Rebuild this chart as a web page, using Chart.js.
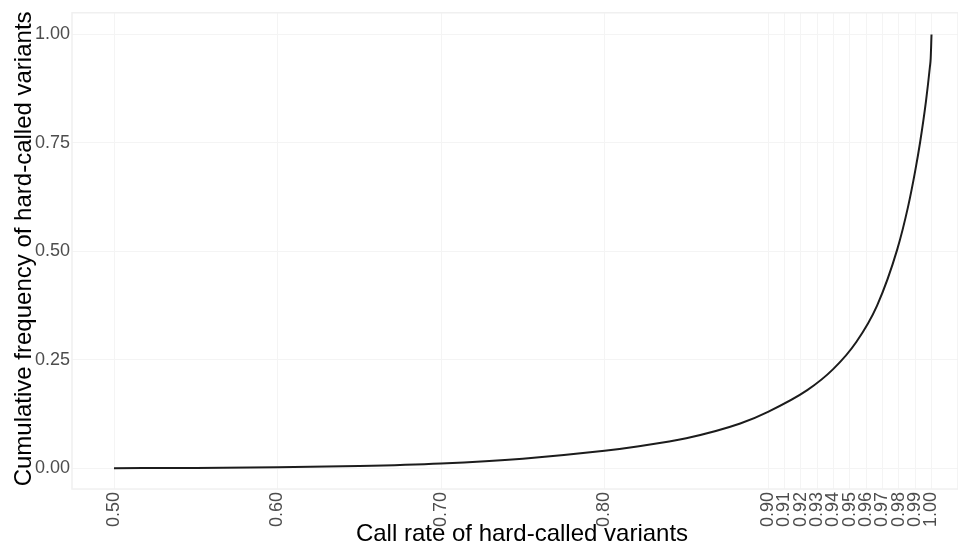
<!DOCTYPE html>
<html lang="en">
<head>
  <meta charset="UTF-8" />
  <title>Cumulative call rate</title>
  <script src="https://cdn.jsdelivr.net/npm/chart.js"></script>
  <style>
    body {
      margin: 0;
      background: #ffffff;
    }
    canvas {
      display: block;
    }
  </style>
</head>
<body>
  <canvas id="cdfChart" width="958" height="550"></canvas>

  <script>
    // values
    const callRate = [0.50, 0.55, 0.60, 0.65, 0.70, 0.75, 0.80, 0.82, 0.85, 0.883, 0.90,
                      0.924, 0.94, 0.954, 0.9667, 0.979, 0.9856, 0.990, 0.993, 0.9966, 0.999, 0.9995, 1.00];
    const cumFreq  = [0.000, 0.0005, 0.002, 0.005, 0.011, 0.022, 0.040, 0.050, 0.069, 0.103, 0.130,
                      0.180, 0.229, 0.291, 0.375, 0.504, 0.602, 0.685, 0.751, 0.846, 0.925, 0.945, 1.000];
    const xTicks = [0.50, 0.60, 0.70, 0.80, 0.90, 0.91, 0.92, 0.93, 0.94, 0.95, 0.96, 0.97, 0.98, 0.99, 1.00];
    const yTicks = [0.00, 0.25, 0.50, 0.75, 1.00];

    const FONT = "'Liberation Sans', Arial, sans-serif";

    const panelPlugin = {
      id: 'panel',
      beforeDraw(chart) {
        const { ctx, width, height } = chart;
        ctx.save();
        ctx.fillStyle = '#ffffff';
        ctx.fillRect(0, 0, width, height);
        ctx.restore();
      },
      beforeDatasetsDraw(chart) {
        const { ctx, chartArea: a } = chart;
        ctx.save();
        ctx.strokeStyle = '#f0f0f0';
        ctx.lineWidth = 1.5;
        ctx.strokeRect(a.left, a.top, a.right - a.left, a.bottom - a.top);
        ctx.restore();
      },
      afterDraw(chart) {
        const { ctx, chartArea: a } = chart;
        ctx.save();
        ctx.fillStyle = '#000000';
        ctx.font = '24px ' + FONT;
        ctx.textAlign = 'center';
        ctx.textBaseline = 'alphabetic';
        ctx.fillText('Call rate of hard-called variants', 522, 541);
        ctx.translate(31, (a.top + a.bottom) / 2 - 2);
        ctx.rotate(-Math.PI / 2);
        ctx.fillText('Cumulative frequency of hard-called variants', 0, 0);
        ctx.restore();
      }
    };

    const ctx = document.getElementById('cdfChart').getContext('2d');
    new Chart(ctx, {
      type: 'line',
      data: {
        datasets: [{
          data: callRate.map((r, i) => ({ x: r, y: cumFreq[i] })),
          borderColor: '#1c1c1c',
          borderWidth: 2,
          pointRadius: 0,
          fill: false,
          cubicInterpolationMode: 'monotone'
        }]
      },
      options: {
        responsive: false,
        animation: false,
        layout: { padding: { top: 11, right: 0, left: 0, bottom: 0 } },
        plugins: {
          legend: { display: false },
          tooltip: { enabled: false }
        },
        scales: {
          x: {
            type: 'linear',
            min: 0.4743,
            max: 1.0162,
            afterBuildTicks: (scale) => { scale.ticks = xTicks.map(v => ({ value: v })); },
            afterFit: (scale) => { scale.height = 61; },
            grid: { color: '#f4f4f4', lineWidth: 1, drawTicks: false },
            border: { display: false },
            ticks: {
              minRotation: 90,
              maxRotation: 90,
              padding: 3,
              color: '#4d4d4d',
              font: { family: FONT, size: 18 },
              callback: (v) => Number(v).toFixed(2)
            }
          },
          y: {
            type: 'linear',
            min: -0.048,
            max: 1.05,
            afterBuildTicks: (scale) => { scale.ticks = yTicks.map(v => ({ value: v })); },
            afterFit: (scale) => { scale.width = 72; },
            grid: { color: '#f4f4f4', lineWidth: 1, drawTicks: false },
            border: { display: false },
            ticks: {
              padding: 2,
              color: '#4d4d4d',
              font: { family: FONT, size: 18 },
              callback: (v) => Number(v).toFixed(2)
            }
          }
        }
      },
      plugins: [panelPlugin]
    });
  </script>
</body>
</html>
